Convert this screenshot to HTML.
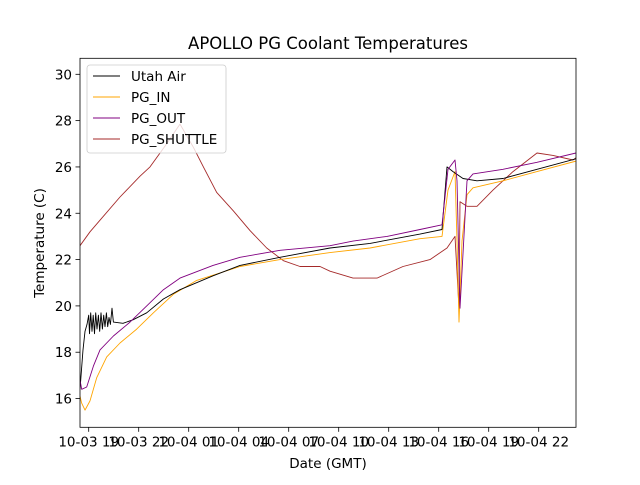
<!DOCTYPE html>
<html><head><meta charset="utf-8"><style>
body{margin:0;background:#fff;}
svg text{font-family:"DejaVu Sans","Liberation Sans",sans-serif;fill:#000;}
</style></head><body>
<svg id="chart" width="640" height="480" viewBox="0 0 640 480" xmlns="http://www.w3.org/2000/svg">
<rect width="640" height="480" fill="#fff"/>
<text x="328" y="49" font-size="16.5" text-anchor="middle">APOLLO PG Coolant Temperatures</text>
<defs><clipPath id="plotclip"><rect x="80" y="58.3" width="496" height="369"/></clipPath></defs>
<g id="series" clip-path="url(#plotclip)"></g>
<g id="axes"></g>
<text x="328" y="468" font-size="13.5" text-anchor="middle">Date (GMT)</text>
<text transform="translate(44,243) rotate(-90)" font-size="13.5" text-anchor="middle">Temperature (C)</text>
<g id="legend"></g>
</svg>
<script>
// hours since 10-03 19:00 GMT
const xTickLabels = ["10-03 19","10-03 22","10-04 01","10-04 04","10-04 07","10-04 10","10-04 13","10-04 16","10-04 19","10-04 22"];
const xTickHours = [0,3,6,9,12,15,18,21,24,27];
const yTicks = [16,18,20,22,24,26,28,30];

const utahT = [-0.52,-0.34,-0.22,-0.10,0.0,0.05,0.12,0.2,0.27,0.35,0.42,0.5,0.58,0.66,0.74,0.82,0.9,0.98,1.06,1.14,1.22,1.30,1.40,1.48,2.06,2.66,3.48,4.48,5.48,7.46,9.08,11.48,14.48,16.88,19.88,21.20,21.50,21.86,22.46,23.30,24.86,26.90,29.24];
const utahV = [16.4,18.1,18.9,19.2,19.6,18.8,19.7,18.9,19.6,18.8,19.7,19.0,19.6,18.9,19.7,19.0,19.6,19.1,19.7,19.1,19.5,19.2,19.9,19.3,19.25,19.4,19.7,20.3,20.7,21.3,21.75,22.1,22.5,22.7,23.1,23.3,26.0,25.8,25.5,25.4,25.5,25.9,26.35];

const inT = [-0.52,-0.42,-0.22,0.08,0.48,1.08,1.88,2.88,3.88,5.08,6.48,9.08,11.48,14.48,16.88,19.88,21.20,21.56,21.98,22.10,22.22,22.40,22.70,23.06,24.86,26.90,29.24];
const inV = [16.1,15.8,15.5,15.9,16.9,17.8,18.4,19.0,19.7,20.5,21.1,21.7,22.0,22.3,22.5,22.9,23.0,25.0,25.8,22.8,19.3,22.8,24.8,25.1,25.4,25.8,26.25];

const outT = [-0.52,-0.42,-0.12,0.28,0.68,1.48,2.48,3.48,4.48,5.48,7.46,9.08,11.48,14.48,15.86,17.90,19.88,21.20,21.56,21.98,22.10,22.28,22.70,23.06,24.86,26.90,29.24];
const outV = [16.8,16.4,16.5,17.4,18.1,18.7,19.3,20.0,20.7,21.2,21.75,22.1,22.4,22.6,22.8,23.0,23.3,23.5,25.9,26.3,25.4,19.9,25.4,25.7,25.9,26.2,26.6];

const shutT = [-0.52,0.08,0.68,1.88,3.08,3.68,4.58,5.48,6.28,6.88,7.68,8.68,9.68,10.68,11.68,12.68,13.88,14.48,15.86,17.30,18.86,20.48,21.50,21.98,22.22,22.28,22.70,23.30,24.26,25.46,26.90,27.86,29.06,29.24];
const shutV = [22.6,23.2,23.7,24.7,25.6,26.0,26.9,27.85,26.85,26.0,24.9,24.1,23.25,22.5,21.95,21.7,21.7,21.5,21.2,21.2,21.7,22.0,22.5,23.0,19.9,24.5,24.3,24.3,25.0,25.8,26.6,26.5,26.3,26.4];

const X0=80, X1=576, Y0=58.3, Y1=427.3;
function xs(h){return 88.7 + h*50/3;}
function ys(v){return 74.3 + (30-v)*23.16;}
const NS="http://www.w3.org/2000/svg";
function mk(tag,attrs,parent){const e=document.createElementNS(NS,tag);for(const k in attrs)e.setAttribute(k,attrs[k]);parent.appendChild(e);return e;}

const axes=document.getElementById('axes');
xTickHours.forEach((h,i)=>{
  const x=xs(h);
  const t=mk('line',{x1:x,x2:x,y1:Y1,y2:Y1+4.5,stroke:'#000','stroke-width':0.8},axes);
  
  
  const l=mk('text',{x:x,y:Y1+19,'font-size':13.5,'text-anchor':'middle'},axes);
  l.textContent=xTickLabels[i];
  
  
});
yTicks.forEach(v=>{
  const y=ys(v);
  const t=mk('line',{x1:X0-4.5,x2:X0,y1:y,y2:y,stroke:'#000','stroke-width':0.8},axes);
  
  
  const l=mk('text',{x:X0-8,y:y+5,'font-size':13.5,'text-anchor':'end'},axes);
  l.textContent=v;
  
  
});
const frame=mk('rect',{x:X0,y:Y0,width:X1-X0,height:Y1-Y0,fill:'none',stroke:'#000','stroke-width':0.8},axes);



const series=document.getElementById('series');
function line(T,V,color,name){
  const d=T.map((h,i)=>(i?'L':'M')+xs(h).toFixed(1)+','+ys(V[i]).toFixed(1)).join('');
  const p=mk('path',{d:d,fill:'none',stroke:color,'stroke-width':0.9,'stroke-linejoin':'round'},series);
  
  
}
line(shutT,shutV,'#a52a2a','pg-shuttle-line');
line(inT,inV,'#ffa500','pg-in-line');
line(utahT,utahV,'#000000','utah-air-line');
line(outT,outV,'#800080','pg-out-line');

const lg=document.getElementById('legend');
mk('rect',{x:87,y:65,width:139,height:88,rx:3,fill:'#fff','fill-opacity':0.8,stroke:'#ccc','stroke-width':0.8},lg);
const entries=[['Utah Air','#000'],['PG_IN','#ffa500'],['PG_OUT','#800080'],['PG_SHUTTLE','#a52a2a']];
entries.forEach((e,i)=>{
  const y=76+i*21;
  const g=mk('g',{},lg);
  
  
  mk('line',{x1:93,x2:120,y1:y,y2:y,stroke:e[1],'stroke-width':0.9},g);
  const t=mk('text',{x:131,y:y+5,'font-size':13.5},g);
  t.textContent=e[0];
});
</script>
</body></html>
